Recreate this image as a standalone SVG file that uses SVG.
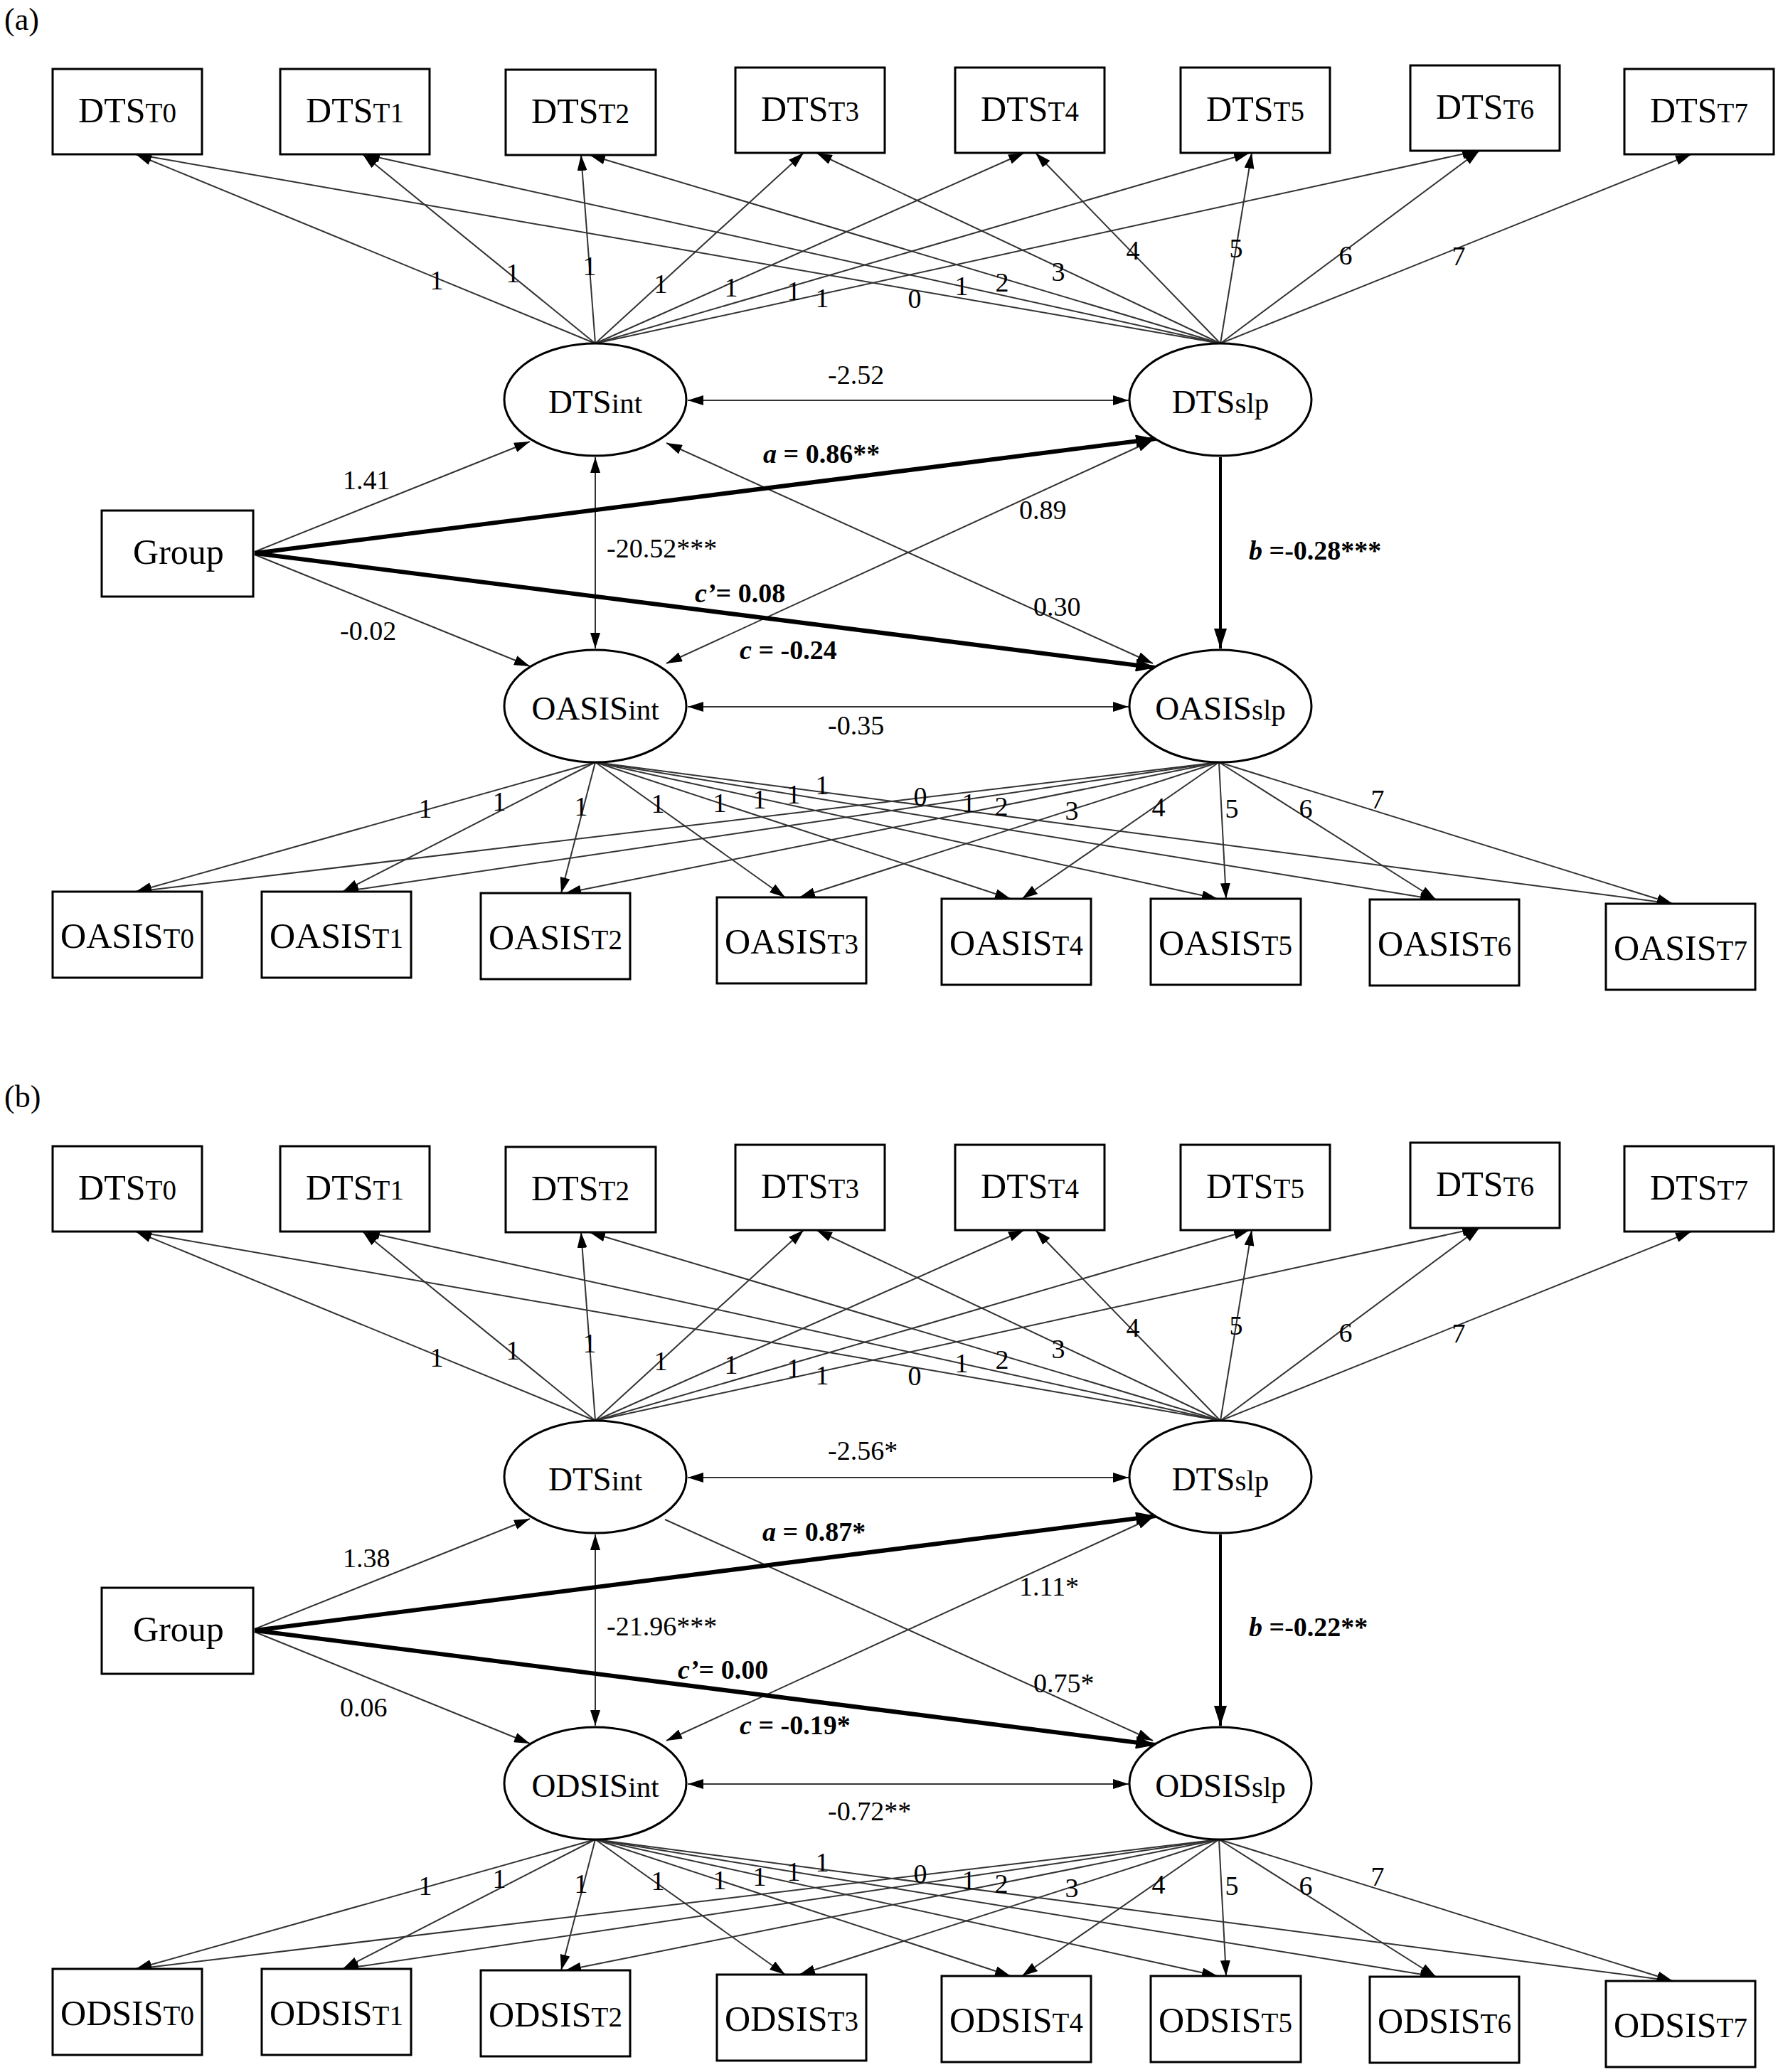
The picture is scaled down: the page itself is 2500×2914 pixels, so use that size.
<svg xmlns="http://www.w3.org/2000/svg" width="2500" height="2914" viewBox="0 0 2500 2914">
<defs>
<style>
.box{fill:#fff;stroke:#000;stroke-width:3}
.lat{fill:#fff;stroke:#000;stroke-width:3}
.nt{font-family:"Liberation Serif","Times New Roman",serif;font-size:50px;text-anchor:middle;fill:#000}
.lt{font-family:"Liberation Serif","Times New Roman",serif;font-size:47px;text-anchor:middle;fill:#000}
.sub{font-size:39px}
.lt .sub{font-size:41px}
.lab{font-family:"Liberation Serif","Times New Roman",serif;font-size:38px;fill:#000}
.mid{text-anchor:middle}
.bl{font-weight:bold}
.it{font-style:italic}
.e{stroke:#333;stroke-width:2;fill:none;marker-end:url(#ah)}
.d{stroke:#333;stroke-width:2;fill:none;marker-start:url(#ah);marker-end:url(#ah)}
.tk{stroke:#000;stroke-width:6;fill:none;marker-end:url(#ahL)}
.vb{stroke:#000;stroke-width:4;fill:none;marker-end:url(#ahL)}
.pl{font-family:"Liberation Serif","Times New Roman",serif;font-size:44px;fill:#000}
</style>
<marker id="ah" viewBox="0 0 22 14" refX="22" refY="7" markerWidth="22" markerHeight="14" markerUnits="userSpaceOnUse" orient="auto-start-reverse"><path d="M0,0 L22,7 L0,14 z" fill="#000"/></marker>
<marker id="ahL" viewBox="0 0 28 18" refX="28" refY="9" markerWidth="28" markerHeight="18" markerUnits="userSpaceOnUse" orient="auto-start-reverse"><path d="M0,0 L28,9 L0,18 z" fill="#000"/></marker>
</defs>
<rect width="2500" height="2914" fill="#fff"/>

<!-- ================= PANEL A ================= -->
<g id="panel-a">
<text class="pl" x="6" y="42">(a)</text>
<g id="a-connectors">
<line class="e" x1="837" y1="483" x2="191" y2="217"/>
<line class="e" x1="837" y1="483" x2="510" y2="217"/>
<line class="e" x1="837" y1="483" x2="817" y2="218"/>
<line class="e" x1="837" y1="483" x2="1130" y2="215"/>
<line class="e" x1="837" y1="483" x2="1440" y2="215"/>
<line class="e" x1="837" y1="483" x2="1757" y2="215"/>
<line class="e" x1="837" y1="483" x2="2078" y2="212"/>
<line class="e" x1="1716" y1="483" x2="191" y2="217"/>
<line class="e" x1="1716" y1="483" x2="512" y2="217"/>
<line class="e" x1="1716" y1="483" x2="829" y2="218"/>
<line class="e" x1="1716" y1="483" x2="1148" y2="215"/>
<line class="e" x1="1716" y1="483" x2="1456" y2="215"/>
<line class="e" x1="1716" y1="483" x2="1760" y2="215"/>
<line class="e" x1="1716" y1="483" x2="2080" y2="212"/>
<line class="e" x1="1716" y1="483" x2="2378" y2="217"/>
<line class="e" x1="837" y1="1072" x2="191" y2="1254"/>
<line class="e" x1="837" y1="1072" x2="482" y2="1254"/>
<line class="e" x1="837" y1="1072" x2="789" y2="1256"/>
<line class="e" x1="837" y1="1072" x2="1104" y2="1262"/>
<line class="e" x1="837" y1="1072" x2="1421" y2="1264"/>
<line class="e" x1="837" y1="1072" x2="1712" y2="1264"/>
<line class="e" x1="837" y1="1072" x2="2019" y2="1265"/>
<line class="e" x1="837" y1="1072" x2="2352" y2="1271"/>
<line class="e" x1="1714" y1="1072" x2="191" y2="1254"/>
<line class="e" x1="1714" y1="1072" x2="482" y2="1254"/>
<line class="e" x1="1714" y1="1072" x2="795" y2="1256"/>
<line class="e" x1="1714" y1="1072" x2="1124" y2="1262"/>
<line class="e" x1="1714" y1="1072" x2="1437" y2="1264"/>
<line class="e" x1="1714" y1="1072" x2="1724" y2="1264"/>
<line class="e" x1="1714" y1="1072" x2="2019" y2="1265"/>
<line class="e" x1="1714" y1="1072" x2="2352" y2="1271"/>
<line class="d" x1="967" y1="563" x2="1587" y2="563"/>
<line class="d" x1="967" y1="994" x2="1587" y2="994"/>
<line class="d" x1="837" y1="643" x2="837" y2="912"/>
<line class="e" x1="358" y1="776" x2="745" y2="621"/>
<line class="e" x1="358" y1="780" x2="745" y2="937"/>
<line class="d" x1="937" y1="623" x2="1621" y2="933"/>
<line class="d" x1="937" y1="933" x2="1621" y2="619"/>
<line class="tk" x1="358" y1="778" x2="1625" y2="617"/>
<line class="tk" x1="358" y1="778" x2="1625" y2="939"/>
<line class="vb" x1="1716" y1="643" x2="1716" y2="912"/>
</g>
<g id="a-labels">
<text class="lab mid" x="614" y="407">1</text>
<text class="lab mid" x="721" y="397">1</text>
<text class="lab mid" x="829" y="387">1</text>
<text class="lab mid" x="929" y="412">1</text>
<text class="lab mid" x="1028" y="417">1</text>
<text class="lab mid" x="1116" y="422">1</text>
<text class="lab mid" x="1156" y="432">1</text>
<text class="lab mid" x="1286" y="433">0</text>
<text class="lab mid" x="1352" y="415">1</text>
<text class="lab mid" x="1409" y="410">2</text>
<text class="lab mid" x="1488" y="395">3</text>
<text class="lab mid" x="1593" y="365">4</text>
<text class="lab mid" x="1738" y="362">5</text>
<text class="lab mid" x="1892" y="372">6</text>
<text class="lab mid" x="2051" y="373">7</text>
<text class="lab mid" x="598" y="1150">1</text>
<text class="lab mid" x="702" y="1140">1</text>
<text class="lab mid" x="817" y="1147">1</text>
<text class="lab mid" x="925" y="1143">1</text>
<text class="lab mid" x="1012" y="1142">1</text>
<text class="lab mid" x="1068" y="1137">1</text>
<text class="lab mid" x="1116" y="1130">1</text>
<text class="lab mid" x="1156" y="1117">1</text>
<text class="lab mid" x="1294" y="1133">0</text>
<text class="lab mid" x="1362" y="1142">1</text>
<text class="lab mid" x="1408" y="1147">2</text>
<text class="lab mid" x="1507" y="1153">3</text>
<text class="lab mid" x="1629" y="1148">4</text>
<text class="lab mid" x="1732" y="1150">5</text>
<text class="lab mid" x="1836" y="1150">6</text>
<text class="lab mid" x="1937" y="1137">7</text>
<text class="lab" x="1164" y="540">-2.52</text>
<text class="lab" x="482" y="688">1.41</text>
<text class="lab bl" x="1073" y="651"><tspan class="it">a</tspan> = 0.86**</text>
<text class="lab" x="853" y="784">-20.52***</text>
<text class="lab" x="1433" y="730">0.89</text>
<text class="lab bl" x="1756" y="787"><tspan class="it">b</tspan> =-0.28***</text>
<text class="lab bl" x="977" y="847"><tspan class="it">c’</tspan>= 0.08</text>
<text class="lab" x="478" y="900">-0.02</text>
<text class="lab" x="1453" y="866">0.30</text>
<text class="lab bl" x="1040" y="927"><tspan class="it">c</tspan> = -0.24</text>
<text class="lab" x="1164" y="1033">-0.35</text>
</g>
<g id="a-DTS_T0"><rect class="box" x="74" y="97" width="210" height="120"/><text class="nt" x="179" y="172">DTS<tspan class="sub">T0</tspan></text></g>
<g id="a-DTS_T1"><rect class="box" x="394" y="97" width="210" height="120"/><text class="nt" x="499" y="172">DTS<tspan class="sub">T1</tspan></text></g>
<g id="a-DTS_T2"><rect class="box" x="711" y="98" width="211" height="120"/><text class="nt" x="816" y="173">DTS<tspan class="sub">T2</tspan></text></g>
<g id="a-DTS_T3"><rect class="box" x="1034" y="95" width="210" height="120"/><text class="nt" x="1139" y="170">DTS<tspan class="sub">T3</tspan></text></g>
<g id="a-DTS_T4"><rect class="box" x="1343" y="95" width="210" height="120"/><text class="nt" x="1448" y="170">DTS<tspan class="sub">T4</tspan></text></g>
<g id="a-DTS_T5"><rect class="box" x="1660" y="95" width="210" height="120"/><text class="nt" x="1765" y="170">DTS<tspan class="sub">T5</tspan></text></g>
<g id="a-DTS_T6"><rect class="box" x="1983" y="92" width="210" height="120"/><text class="nt" x="2088" y="167">DTS<tspan class="sub">T6</tspan></text></g>
<g id="a-DTS_T7"><rect class="box" x="2284" y="97" width="210" height="120"/><text class="nt" x="2389" y="172">DTS<tspan class="sub">T7</tspan></text></g>
<g id="a-DTS_int"><ellipse class="lat" cx="837" cy="562" rx="128" ry="79"/><text class="lt" x="837" y="581">DTS<tspan class="sub">int</tspan></text></g>
<g id="a-DTS_slp"><ellipse class="lat" cx="1716" cy="562" rx="128" ry="79"/><text class="lt" x="1716" y="581">DTS<tspan class="sub">slp</tspan></text></g>
<g id="a-Group"><rect class="box" x="143" y="718" width="213" height="121"/><text class="nt" x="251" y="793">Group</text></g>
<g id="a-OASIS_int"><ellipse class="lat" cx="837" cy="993" rx="128" ry="79"/><text class="lt" x="837" y="1012">OASIS<tspan class="sub">int</tspan></text></g>
<g id="a-OASIS_slp"><ellipse class="lat" cx="1716" cy="993" rx="128" ry="79"/><text class="lt" x="1716" y="1012">OASIS<tspan class="sub">slp</tspan></text></g>
<g id="a-OASIS_T0"><rect class="box" x="74" y="1254" width="210" height="121"/><text class="nt" x="179" y="1333">OASIS<tspan class="sub">T0</tspan></text></g>
<g id="a-OASIS_T1"><rect class="box" x="368" y="1254" width="210" height="121"/><text class="nt" x="473" y="1333">OASIS<tspan class="sub">T1</tspan></text></g>
<g id="a-OASIS_T2"><rect class="box" x="676" y="1256" width="210" height="121"/><text class="nt" x="781" y="1335">OASIS<tspan class="sub">T2</tspan></text></g>
<g id="a-OASIS_T3"><rect class="box" x="1008" y="1262" width="210" height="121"/><text class="nt" x="1113" y="1341">OASIS<tspan class="sub">T3</tspan></text></g>
<g id="a-OASIS_T4"><rect class="box" x="1324" y="1264" width="210" height="121"/><text class="nt" x="1429" y="1343">OASIS<tspan class="sub">T4</tspan></text></g>
<g id="a-OASIS_T5"><rect class="box" x="1618" y="1264" width="211" height="121"/><text class="nt" x="1723" y="1343">OASIS<tspan class="sub">T5</tspan></text></g>
<g id="a-OASIS_T6"><rect class="box" x="1926" y="1265" width="210" height="121"/><text class="nt" x="2031" y="1344">OASIS<tspan class="sub">T6</tspan></text></g>
<g id="a-OASIS_T7"><rect class="box" x="2258" y="1271" width="210" height="121"/><text class="nt" x="2363" y="1350">OASIS<tspan class="sub">T7</tspan></text></g>
</g>

<!-- ================= PANEL B ================= -->
<g id="panel-b" transform="translate(0,1515)">
<text class="pl" x="6" y="42">(b)</text>
<g id="b-connectors">
<line class="e" x1="837" y1="483" x2="191" y2="217"/>
<line class="e" x1="837" y1="483" x2="510" y2="217"/>
<line class="e" x1="837" y1="483" x2="817" y2="218"/>
<line class="e" x1="837" y1="483" x2="1130" y2="215"/>
<line class="e" x1="837" y1="483" x2="1440" y2="215"/>
<line class="e" x1="837" y1="483" x2="1757" y2="215"/>
<line class="e" x1="837" y1="483" x2="2078" y2="212"/>
<line class="e" x1="1716" y1="483" x2="191" y2="217"/>
<line class="e" x1="1716" y1="483" x2="512" y2="217"/>
<line class="e" x1="1716" y1="483" x2="829" y2="218"/>
<line class="e" x1="1716" y1="483" x2="1148" y2="215"/>
<line class="e" x1="1716" y1="483" x2="1456" y2="215"/>
<line class="e" x1="1716" y1="483" x2="1760" y2="215"/>
<line class="e" x1="1716" y1="483" x2="2080" y2="212"/>
<line class="e" x1="1716" y1="483" x2="2378" y2="217"/>
<line class="e" x1="837" y1="1072" x2="191" y2="1254"/>
<line class="e" x1="837" y1="1072" x2="482" y2="1254"/>
<line class="e" x1="837" y1="1072" x2="789" y2="1256"/>
<line class="e" x1="837" y1="1072" x2="1104" y2="1262"/>
<line class="e" x1="837" y1="1072" x2="1421" y2="1264"/>
<line class="e" x1="837" y1="1072" x2="1712" y2="1264"/>
<line class="e" x1="837" y1="1072" x2="2019" y2="1265"/>
<line class="e" x1="837" y1="1072" x2="2352" y2="1271"/>
<line class="e" x1="1714" y1="1072" x2="191" y2="1254"/>
<line class="e" x1="1714" y1="1072" x2="482" y2="1254"/>
<line class="e" x1="1714" y1="1072" x2="795" y2="1256"/>
<line class="e" x1="1714" y1="1072" x2="1124" y2="1262"/>
<line class="e" x1="1714" y1="1072" x2="1437" y2="1264"/>
<line class="e" x1="1714" y1="1072" x2="1724" y2="1264"/>
<line class="e" x1="1714" y1="1072" x2="2019" y2="1265"/>
<line class="e" x1="1714" y1="1072" x2="2352" y2="1271"/>
<line class="d" x1="967" y1="563" x2="1587" y2="563"/>
<line class="d" x1="967" y1="994" x2="1587" y2="994"/>
<line class="d" x1="837" y1="643" x2="837" y2="912"/>
<line class="e" x1="358" y1="776" x2="745" y2="621"/>
<line class="e" x1="358" y1="780" x2="745" y2="937"/>
<line class="e" x1="935" y1="622" x2="1621" y2="933"/>
<line class="d" x1="937" y1="933" x2="1621" y2="619"/>
<line class="tk" x1="358" y1="778" x2="1625" y2="617"/>
<line class="tk" x1="358" y1="778" x2="1625" y2="939"/>
<line class="vb" x1="1716" y1="643" x2="1716" y2="912"/>
</g>
<g id="b-labels">
<text class="lab mid" x="614" y="407">1</text>
<text class="lab mid" x="721" y="397">1</text>
<text class="lab mid" x="829" y="387">1</text>
<text class="lab mid" x="929" y="412">1</text>
<text class="lab mid" x="1028" y="417">1</text>
<text class="lab mid" x="1116" y="422">1</text>
<text class="lab mid" x="1156" y="432">1</text>
<text class="lab mid" x="1286" y="433">0</text>
<text class="lab mid" x="1352" y="415">1</text>
<text class="lab mid" x="1409" y="410">2</text>
<text class="lab mid" x="1488" y="395">3</text>
<text class="lab mid" x="1593" y="365">4</text>
<text class="lab mid" x="1738" y="362">5</text>
<text class="lab mid" x="1892" y="372">6</text>
<text class="lab mid" x="2051" y="373">7</text>
<text class="lab mid" x="598" y="1150">1</text>
<text class="lab mid" x="702" y="1140">1</text>
<text class="lab mid" x="817" y="1147">1</text>
<text class="lab mid" x="925" y="1143">1</text>
<text class="lab mid" x="1012" y="1142">1</text>
<text class="lab mid" x="1068" y="1137">1</text>
<text class="lab mid" x="1116" y="1130">1</text>
<text class="lab mid" x="1156" y="1117">1</text>
<text class="lab mid" x="1294" y="1133">0</text>
<text class="lab mid" x="1362" y="1142">1</text>
<text class="lab mid" x="1408" y="1147">2</text>
<text class="lab mid" x="1507" y="1153">3</text>
<text class="lab mid" x="1629" y="1148">4</text>
<text class="lab mid" x="1732" y="1150">5</text>
<text class="lab mid" x="1836" y="1150">6</text>
<text class="lab mid" x="1937" y="1137">7</text>
<text class="lab" x="1164" y="538">-2.56*</text>
<text class="lab" x="482" y="689">1.38</text>
<text class="lab bl" x="1072" y="652"><tspan class="it">a</tspan> = 0.87*</text>
<text class="lab" x="853" y="785">-21.96***</text>
<text class="lab" x="1433" y="729">1.11*</text>
<text class="lab bl" x="1756" y="786"><tspan class="it">b</tspan> =-0.22**</text>
<text class="lab bl" x="953" y="846"><tspan class="it">c’</tspan>= 0.00</text>
<text class="lab" x="478" y="899">0.06</text>
<text class="lab" x="1453" y="865">0.75*</text>
<text class="lab bl" x="1040" y="924"><tspan class="it">c</tspan> = -0.19*</text>
<text class="lab" x="1164" y="1045">-0.72**</text>
</g>
<g id="b-DTS_T0"><rect class="box" x="74" y="97" width="210" height="120"/><text class="nt" x="179" y="172">DTS<tspan class="sub">T0</tspan></text></g>
<g id="b-DTS_T1"><rect class="box" x="394" y="97" width="210" height="120"/><text class="nt" x="499" y="172">DTS<tspan class="sub">T1</tspan></text></g>
<g id="b-DTS_T2"><rect class="box" x="711" y="98" width="211" height="120"/><text class="nt" x="816" y="173">DTS<tspan class="sub">T2</tspan></text></g>
<g id="b-DTS_T3"><rect class="box" x="1034" y="95" width="210" height="120"/><text class="nt" x="1139" y="170">DTS<tspan class="sub">T3</tspan></text></g>
<g id="b-DTS_T4"><rect class="box" x="1343" y="95" width="210" height="120"/><text class="nt" x="1448" y="170">DTS<tspan class="sub">T4</tspan></text></g>
<g id="b-DTS_T5"><rect class="box" x="1660" y="95" width="210" height="120"/><text class="nt" x="1765" y="170">DTS<tspan class="sub">T5</tspan></text></g>
<g id="b-DTS_T6"><rect class="box" x="1983" y="92" width="210" height="120"/><text class="nt" x="2088" y="167">DTS<tspan class="sub">T6</tspan></text></g>
<g id="b-DTS_T7"><rect class="box" x="2284" y="97" width="210" height="120"/><text class="nt" x="2389" y="172">DTS<tspan class="sub">T7</tspan></text></g>
<g id="b-DTS_int"><ellipse class="lat" cx="837" cy="562" rx="128" ry="79"/><text class="lt" x="837" y="581">DTS<tspan class="sub">int</tspan></text></g>
<g id="b-DTS_slp"><ellipse class="lat" cx="1716" cy="562" rx="128" ry="79"/><text class="lt" x="1716" y="581">DTS<tspan class="sub">slp</tspan></text></g>
<g id="b-Group"><rect class="box" x="143" y="718" width="213" height="121"/><text class="nt" x="251" y="793">Group</text></g>
<g id="b-ODSIS_int"><ellipse class="lat" cx="837" cy="993" rx="128" ry="79"/><text class="lt" x="837" y="1012">ODSIS<tspan class="sub">int</tspan></text></g>
<g id="b-ODSIS_slp"><ellipse class="lat" cx="1716" cy="993" rx="128" ry="79"/><text class="lt" x="1716" y="1012">ODSIS<tspan class="sub">slp</tspan></text></g>
<g id="b-ODSIS_T0"><rect class="box" x="74" y="1254" width="210" height="121"/><text class="nt" x="179" y="1333">ODSIS<tspan class="sub">T0</tspan></text></g>
<g id="b-ODSIS_T1"><rect class="box" x="368" y="1254" width="210" height="121"/><text class="nt" x="473" y="1333">ODSIS<tspan class="sub">T1</tspan></text></g>
<g id="b-ODSIS_T2"><rect class="box" x="676" y="1256" width="210" height="121"/><text class="nt" x="781" y="1335">ODSIS<tspan class="sub">T2</tspan></text></g>
<g id="b-ODSIS_T3"><rect class="box" x="1008" y="1262" width="210" height="121"/><text class="nt" x="1113" y="1341">ODSIS<tspan class="sub">T3</tspan></text></g>
<g id="b-ODSIS_T4"><rect class="box" x="1324" y="1264" width="210" height="121"/><text class="nt" x="1429" y="1343">ODSIS<tspan class="sub">T4</tspan></text></g>
<g id="b-ODSIS_T5"><rect class="box" x="1618" y="1264" width="211" height="121"/><text class="nt" x="1723" y="1343">ODSIS<tspan class="sub">T5</tspan></text></g>
<g id="b-ODSIS_T6"><rect class="box" x="1926" y="1265" width="210" height="121"/><text class="nt" x="2031" y="1344">ODSIS<tspan class="sub">T6</tspan></text></g>
<g id="b-ODSIS_T7"><rect class="box" x="2258" y="1271" width="210" height="121"/><text class="nt" x="2363" y="1350">ODSIS<tspan class="sub">T7</tspan></text></g>
</g>
</svg>
